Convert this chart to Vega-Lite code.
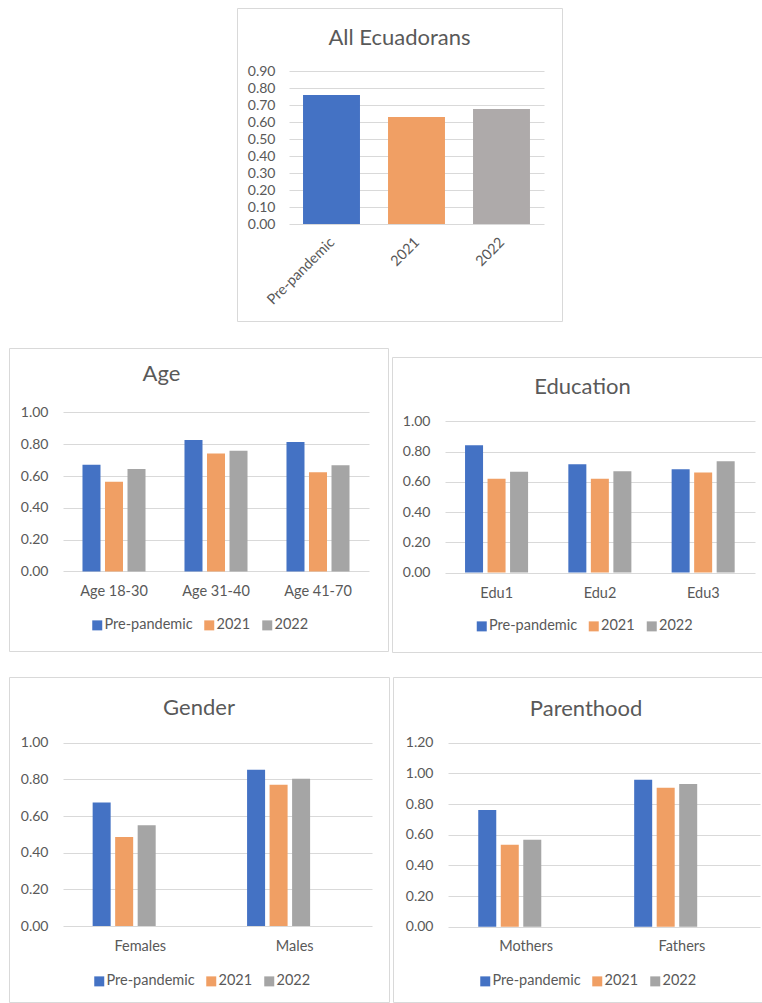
{
  "$schema": "https://vega.github.io/schema/vega-lite/v6.json",
  "padding": {"left": 8, "top": 7, "right": 0, "bottom": 0},
  "background": "white",
  "config": {
    "font": "Lato",
    "view": {"stroke": "#D9D9D9", "strokeWidth": 1},
    "axis": {"labelFont": "Lato", "labelFontSize": 14, "labelColor": "#595959", "domain": false, "ticks": false, "tickSize": 0, "gridColor": "#D9D9D9", "gridWidth": 1, "title": null, "labelOverlap": false},
    "axisX": {"labelFontSize": 14.5},
    "title": {"font": "Lato", "fontSize": 22, "fontWeight": "normal", "color": "#595959", "anchor": "middle", "frame": "group", "baseline": "alphabetic"},
    "legend": {"orient": "none", "direction": "horizontal", "symbolType": "square", "symbolSize": 100, "symbolStrokeWidth": 0, "labelFont": "Lato", "labelFontSize": 14.5, "labelColor": "#595959", "columnPadding": 9, "labelOffset": 0, "title": null, "padding": 0},
    "bar": {"stroke": null}
  },
  "resolve": {"scale": {"color": "independent"}, "legend": {"color": "independent"}},
  "spacing": 25,
  "vconcat": [
    {
      "spacing": 0,
      "resolve": {"scale": {"color": "independent"}, "legend": {"color": "independent"}},
      "hconcat": [
        {"width": 227, "height": 10, "data": {"values": []}, "mark": "point", "encoding": {}, "view": {"stroke": null}},
        {
          "width": 325, "height": 313,
          "title": {"text": "All Ecuadorans", "offset": -41.5},
          "data": {"values": [
            {"series": "Pre-pandemic", "value": 0.759},
            {"series": "2021", "value": 0.629},
            {"series": "2022", "value": 0.677}
          ]},
          "mark": {"type": "bar"},
          "encoding": {
            "x": {"field": "series", "type": "nominal", "sort": ["Pre-pandemic", "2021", "2022"],
                  "scale": {"range": [52, 307], "paddingInner": 0.33, "paddingOuter": 0.165},
                  "axis": {"labelAngle": -45, "offset": -97, "labelPadding": 11, "labelOffset": -4}},
            "y": {"field": "value", "type": "quantitative",
                  "scale": {"domain": [0, 0.9], "range": [216, 63], "nice": false},
                  "axis": {"values": [0, 0.1, 0.2, 0.3, 0.4, 0.5, 0.6, 0.7, 0.8, 0.9], "format": ".2f", "offset": -38, "labelPadding": 0, "grid": true}},
            "color": {"field": "series", "type": "nominal",
                      "scale": {"domain": ["Pre-pandemic", "2021", "2022"], "range": ["#4472C4", "#F09F64", "#AEAAAA"]},
                      "legend": null}
          }
        }
      ]
    },
    {
      "spacing": 23,
      "resolve": {"scale": {"color": "independent"}, "legend": {"color": "independent"}},
      "vconcat": [
        {
          "spacing": 2,
          "resolve": {"scale": {"color": "independent"}, "legend": {"color": "independent"}},
          "hconcat": [
            {
              "width": 379, "height": 303,
              "title": {"text": "Age", "offset": -38, "dx": -37},
              "data": {"values": [
                {"group": "Age 18-30", "series": "Pre-pandemic", "value": 0.671},
                {"group": "Age 18-30", "series": "2021", "value": 0.564},
                {"group": "Age 18-30", "series": "2022", "value": 0.644},
                {"group": "Age 31-40", "series": "Pre-pandemic", "value": 0.826},
                {"group": "Age 31-40", "series": "2021", "value": 0.742},
                {"group": "Age 31-40", "series": "2022", "value": 0.759},
                {"group": "Age 41-70", "series": "Pre-pandemic", "value": 0.814},
                {"group": "Age 41-70", "series": "2021", "value": 0.623},
                {"group": "Age 41-70", "series": "2022", "value": 0.667}
              ]},
              "mark": {"type": "bar"},
              "encoding": {
                "x": {"field": "group", "type": "nominal", "sort": ["Age 18-30", "Age 31-40", "Age 41-70"],
                      "scale": {"range": [54, 360], "paddingInner": 0.382, "paddingOuter": 0.191},
                      "axis": {"labelAngle": 0, "offset": -80, "labelPadding": 13}},
                "xOffset": {"field": "series", "type": "nominal", "sort": ["Pre-pandemic", "2021", "2022"], "scale": {"paddingInner": 0.2, "paddingOuter": 0}},
                "y": {"field": "value", "type": "quantitative",
                      "scale": {"domain": [0, 1], "range": [223.4, 64.4], "nice": false},
                      "axis": {"values": [0, 0.2, 0.4, 0.6, 0.8, 1], "format": ".2f", "offset": -39, "labelPadding": 0, "grid": true}},
                "color": {"field": "series", "type": "nominal", "sort": ["Pre-pandemic", "2021", "2022"],
                          "scale": {"domain": ["Pre-pandemic", "2021", "2022"], "range": ["#4472C4", "#F09F64", "#A5A5A5"]},
                          "legend": {"orient": "none", "legendX": 81, "legendY": 270}}
              }
            },
            {
              "spacing": 0,
              "resolve": {"scale": {"color": "independent"}, "legend": {"color": "independent"}},
              "vconcat": [
                {"width": 10, "height": 8, "data": {"values": []}, "mark": "point", "encoding": {}, "view": {"stroke": null}},
                {
                  "width": 371, "height": 295,
                  "title": {"text": "Education", "offset": -42, "dx": 5},
                  "data": {"values": [
                    {"group": "Edu1", "series": "Pre-pandemic", "value": 0.841},
                    {"group": "Edu1", "series": "2021", "value": 0.621},
                    {"group": "Edu1", "series": "2022", "value": 0.667},
                    {"group": "Edu2", "series": "Pre-pandemic", "value": 0.716},
                    {"group": "Edu2", "series": "2021", "value": 0.621},
                    {"group": "Edu2", "series": "2022", "value": 0.670},
                    {"group": "Edu3", "series": "Pre-pandemic", "value": 0.683},
                    {"group": "Edu3", "series": "2021", "value": 0.661},
                    {"group": "Edu3", "series": "2022", "value": 0.736}
                  ]},
                  "mark": {"type": "bar"},
                  "encoding": {
                    "x": {"field": "group", "type": "nominal", "sort": ["Edu1", "Edu2", "Edu3"],
                          "scale": {"range": [53, 363], "paddingInner": 0.387, "paddingOuter": 0.194},
                          "axis": {"labelAngle": 0, "offset": -79.4, "labelPadding": 14}},
                    "xOffset": {"field": "series", "type": "nominal", "sort": ["Pre-pandemic", "2021", "2022"], "scale": {"paddingInner": 0.2, "paddingOuter": 0}},
                    "y": {"field": "value", "type": "quantitative",
                          "scale": {"domain": [0, 1], "range": [215.6, 64.3], "nice": false},
                          "axis": {"values": [0, 0.2, 0.4, 0.6, 0.8, 1], "format": ".2f", "offset": -38, "labelPadding": 0, "grid": true}},
                    "color": {"field": "series", "type": "nominal", "sort": ["Pre-pandemic", "2021", "2022"],
                              "scale": {"domain": ["Pre-pandemic", "2021", "2022"], "range": ["#4472C4", "#F09F64", "#A5A5A5"]},
                              "legend": {"orient": "none", "legendX": 82.5, "legendY": 262}}
                  }
                }
              ]
            }
          ]
        },
        {
          "spacing": 2,
          "resolve": {"scale": {"color": "independent"}, "legend": {"color": "independent"}},
          "hconcat": [
            {
              "width": 380, "height": 325,
              "title": {"text": "Gender", "offset": -43},
              "data": {"values": [
                {"group": "Females", "series": "Pre-pandemic", "value": 0.674},
                {"group": "Females", "series": "2021", "value": 0.486},
                {"group": "Females", "series": "2022", "value": 0.549},
                {"group": "Males", "series": "Pre-pandemic", "value": 0.853},
                {"group": "Males", "series": "2021", "value": 0.771},
                {"group": "Males", "series": "2022", "value": 0.804}
              ]},
              "mark": {"type": "bar"},
              "encoding": {
                "x": {"field": "group", "type": "nominal", "sort": ["Females", "Males"],
                      "scale": {"range": [54, 363], "paddingInner": 0.383, "paddingOuter": 0.192},
                      "axis": {"labelAngle": 0, "offset": -77, "labelPadding": 14}},
                "xOffset": {"field": "series", "type": "nominal", "sort": ["Pre-pandemic", "2021", "2022"], "scale": {"paddingInner": 0.21, "paddingOuter": 0}},
                "y": {"field": "value", "type": "quantitative",
                      "scale": {"domain": [0, 1], "range": [249, 65.7], "nice": false},
                      "axis": {"values": [0, 0.2, 0.4, 0.6, 0.8, 1], "format": ".2f", "offset": -39, "labelPadding": 0, "grid": true}},
                "color": {"field": "series", "type": "nominal", "sort": ["Pre-pandemic", "2021", "2022"],
                          "scale": {"domain": ["Pre-pandemic", "2021", "2022"], "range": ["#4472C4", "#F09F64", "#A5A5A5"]},
                          "legend": {"orient": "none", "legendX": 83, "legendY": 297}}
              }
            },
            {
              "width": 371, "height": 325,
              "title": {"text": "Parenthood", "offset": -44, "dx": 7.6},
              "data": {"values": [
                {"group": "Mothers", "series": "Pre-pandemic", "value": 0.761},
                {"group": "Mothers", "series": "2021", "value": 0.535},
                {"group": "Mothers", "series": "2022", "value": 0.567},
                {"group": "Fathers", "series": "Pre-pandemic", "value": 0.958},
                {"group": "Fathers", "series": "2021", "value": 0.907},
                {"group": "Fathers", "series": "2022", "value": 0.931}
              ]},
              "mark": {"type": "bar"},
              "encoding": {
                "x": {"field": "group", "type": "nominal", "sort": ["Mothers", "Fathers"],
                      "scale": {"range": [55, 367], "paddingInner": 0.387, "paddingOuter": 0.194},
                      "axis": {"labelAngle": 0, "offset": -76.3, "labelPadding": 14}},
                "xOffset": {"field": "series", "type": "nominal", "sort": ["Pre-pandemic", "2021", "2022"], "scale": {"paddingInner": 0.21, "paddingOuter": 0}},
                "y": {"field": "value", "type": "quantitative",
                      "scale": {"domain": [0, 1.2], "range": [249.7, 65.7], "nice": false},
                      "axis": {"values": [0, 0.2, 0.4, 0.6, 0.8, 1, 1.2], "format": ".2f", "offset": -40, "labelPadding": 0, "grid": true}},
                "color": {"field": "series", "type": "nominal", "sort": ["Pre-pandemic", "2021", "2022"],
                          "scale": {"domain": ["Pre-pandemic", "2021", "2022"], "range": ["#4472C4", "#F09F64", "#A5A5A5"]},
                          "legend": {"orient": "none", "legendX": 85, "legendY": 297}}
              }
            }
          ]
        }
      ]
    }
  ]
}
